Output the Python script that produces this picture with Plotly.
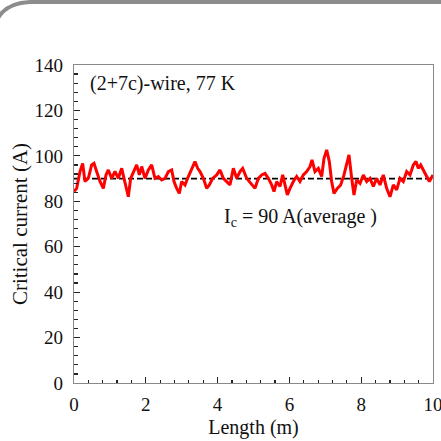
import plotly.graph_objects as go

# Data
length_m = [0.0, 0.074, 0.167, 0.241, 0.306, 0.399, 0.492, 0.557, 0.631, 0.724, 0.817, 0.891, 0.956,
            1.049, 1.142, 1.235, 1.328, 1.393, 1.467, 1.513, 1.578, 1.653, 1.746, 1.820, 1.885, 1.978,
            2.071, 2.163, 2.256, 2.349, 2.442, 2.535, 2.628, 2.721, 2.786, 2.860, 2.934, 2.999, 3.092,
            3.185, 3.278, 3.370, 3.445, 3.510, 3.603, 3.695, 3.770, 3.863, 3.974, 4.067, 4.160, 4.253,
            4.345, 4.438, 4.531, 4.624, 4.698, 4.810, 4.95,
            5.042, 5.135, 5.228, 5.320, 5.413, 5.506, 5.571, 5.645, 5.738, 5.813, 5.877, 5.942, 6.017,
            6.110, 6.202, 6.295, 6.388, 6.481, 6.574, 6.630, 6.713, 6.806, 6.899, 6.964, 7.038, 7.112,
            7.177, 7.242, 7.335, 7.428, 7.521, 7.595, 7.660, 7.735, 7.799, 7.874, 7.967, 8.059, 8.152,
            8.245, 8.338, 8.431, 8.524, 8.616, 8.709, 8.802, 8.895, 8.988, 9.081, 9.173, 9.267, 9.359,
            9.452, 9.526, 9.591, 9.657, 9.731, 9.824, 9.898, 10.0]
critical_current = [84.3, 85.7, 93.1, 96.7, 88.7, 90.1, 96.0, 96.7, 93.1, 88.7, 85.7, 91.6, 93.8,
                    90.1, 93.1, 90.1, 94.5, 90.1, 86.5, 82.0, 90.1, 93.1, 96.0, 91.6, 95.3, 90.1,
                    93.8, 96.0, 90.1, 90.9, 89.4, 90.1, 93.1, 93.8, 88.7, 85.7, 83.5, 88.7, 87.2,
                    90.9, 94.5, 97.5, 94.5, 93.1, 90.1, 85.7, 87.2, 90.1, 91.6, 93.8, 90.1, 88.7,
                    87.2, 94.5, 90.1, 93.1, 94.5, 90.1, 87.5,
                    85.7, 90.1, 91.6, 92.3, 90.1, 87.2, 84.3, 88.7, 86.5, 91.6, 87.2, 82.8, 85.7,
                    88.7, 90.9, 88.7, 91.6, 93.1, 95.3, 98.2, 93.1, 94.5, 90.9, 98.9, 102.6, 97.5,
                    88.7, 83.5, 85.7, 87.2, 91.6, 96.7, 100.4, 90.1, 82.8, 89.4, 87.9, 91.6, 88.7,
                    90.1, 86.5, 90.1, 87.2, 91.6, 85.7, 82.0, 87.2, 85.0, 90.1, 88.7, 93.1, 91.6,
                    96.0, 97.5, 94.5, 96.0, 93.8, 91.6, 88.7, 91.6]
average_current = 90
x_ticks = [0, 2, 4, 6, 8, 10]
y_ticks = [0, 20, 40, 60, 80, 100, 120, 140]

W, H = 441, 441
ML, MR, MT, MB = 74, 8, 65, 58
PW, PH = W - ML - MR, H - MT - MB


def px(x):
    return (x - ML) / PW


def py(y):
    return (H - MB - y) / PH


serif = "Liberation Serif, Times New Roman, serif"
ink = "#111"

fig = go.Figure()
fig.add_trace(go.Scatter(
    x=[length_m[0], length_m[-1]], y=[average_current, average_current],
    mode="lines", line=dict(color="black", width=1.8, dash="6px,3px"),
    showlegend=False, hoverinfo="skip"))
fig.add_trace(go.Scatter(
    x=length_m, y=critical_current, mode="lines",
    line=dict(color="#ff0000", width=3), showlegend=False))

axis_common = dict(
    showgrid=False, zeroline=False, showline=True, mirror=True,
    linecolor="#8a8a8a", linewidth=1.2,
    ticks="inside", tickcolor="#222", ticklen=6, tickwidth=1.2,
    tickfont=dict(family=serif, size=19, color=ink),
    ticklabeloverflow="allow", automargin=False,
)

fig.update_xaxes(
    range=[0, 10], tickmode="array", tickvals=x_ticks, ticklabelstandoff=4,
    minor=dict(dtick=0.4, ticks="inside", ticklen=3.5, tickcolor="#222", tickwidth=1.2),
    title=dict(text="Length (m)", font=dict(family=serif, size=20, color=ink), standoff=6),
    **axis_common)
fig.update_yaxes(
    range=[0, 140], tickmode="array", tickvals=y_ticks, ticklabelstandoff=6,
    minor=dict(dtick=4, ticks="inside", ticklen=3.5, tickcolor="#222", tickwidth=1.2),
    title=dict(text="Critical current (A)", font=dict(family=serif, size=21, color=ink), standoff=1),
    **axis_common)

fig.add_annotation(x=0.39, y=132, xref="x", yref="y", text="(2+7c)-wire, 77 K",
                   showarrow=False, xanchor="left", yanchor="middle",
                   font=dict(family=serif, size=20, color=ink))
fig.add_annotation(x=4.12, y=72.7, xref="x", yref="y",
                   text="I<sub>c</sub> = 90 A(average )",
                   showarrow=False, xanchor="left", yanchor="middle",
                   font=dict(family=serif, size=20, color=ink))

# outer card border (rounded top-left corner)
path = (f"M {px(445)},{py(2)} L {px(30)},{py(2)} "
        f"Q {px(4)},{py(3)} {px(-4)},{py(22)}")
fig.add_shape(type="path", path=path, xref="paper", yref="paper",
              line=dict(color="#8c8c8c", width=4))

fig.update_layout(
    width=W, height=H, margin=dict(l=ML, r=MR, t=MT, b=MB, autoexpand=False),
    paper_bgcolor="white", plot_bgcolor="white",
)
fig.write_html(
    "out.html",
    config={"displayModeBar": False, "staticPlot": True},
    post_script="document.body.style.margin='0';document.body.style.overflow='hidden';",
)
